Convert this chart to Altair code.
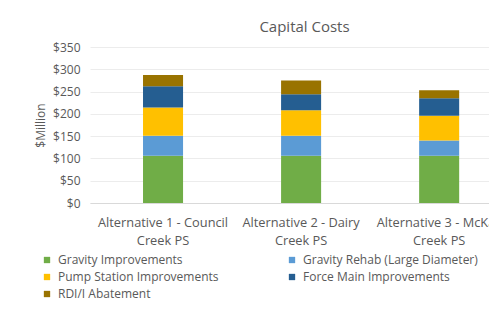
import altair as alt
import pandas as pd

categories = [
    "Alternative 1 - Council Creek PS",
    "Alternative 2 - Dairy Creek PS",
    "Alternative 3 - McKay Creek PS",
]
series = [
    "Gravity Improvements",
    "Gravity Rehab (Large Diameter)",
    "Pump Station Improvements",
    "Force Main Improvements",
    "RDI/I Abatement",
]
colors = ["#70AD47", "#5B9BD5", "#FFC000", "#255E91", "#997300"]
values = {
    "Gravity Improvements": [106, 106, 106],
    "Gravity Rehab (Large Diameter)": [45, 45, 34],
    "Pump Station Improvements": [63, 57, 56],
    "Force Main Improvements": [48, 36, 39],
    "RDI/I Abatement": [25, 31, 18],
}
y_ticks = [0, 50, 100, 150, 200, 250, 300, 350]

rows = []
for si, s in enumerate(series):
    for ci, c in enumerate(categories):
        rows.append({"cat": c, "series": s, "order": si, "value": values[s][ci]})
df = pd.DataFrame(rows)

FONT = "Open Sans"
GREY = "#595959"

chart = (
    alt.Chart(df)
    .mark_bar()
    .encode(
        x=alt.X(
            "cat:N",
            sort=categories,
            title=None,
            scale=alt.Scale(paddingInner=0.71, paddingOuter=0.30, align=0.64),
            axis=alt.Axis(
                labelAngle=0,
                labelExpr="[slice(datum.label, 0, indexof(datum.label, ' Creek')), 'Creek PS']",
                labelFont=FONT,
                labelFontSize=12.8,
                labelColor=GREY,
                labelLineHeight=18,
                labelPadding=13,
                labelLimit=300,
                ticks=False,
                domainColor="#d9d9d9",
                grid=False,
            ),
        ),
        y=alt.Y(
            "value:Q",
            stack="zero",
            title="$Million",
            scale=alt.Scale(domain=[0, 350], nice=False),
            axis=alt.Axis(
                values=y_ticks,
                labelExpr="'$' + datum.value",
                labelFont=FONT,
                labelFontSize=12,
                labelColor=GREY,
                labelPadding=10,
                titleFont=FONT,
                titleFontSize=12,
                titleFontWeight="normal",
                titleColor=GREY,
                titlePadding=5,
                ticks=False,
                domain=False,
                gridColor="#ececec",
            ),
        ),
        color=alt.Color(
            "series:N",
            sort=series,
            scale=alt.Scale(domain=series, range=colors),
            legend=alt.Legend(
                title=None,
                orient="none",
                legendX=-49,
                legendY=207,
                direction="horizontal",
                columns=2,
                columnPadding=67,
                rowPadding=5,
                symbolType="square",
                symbolSize=40,
                symbolStrokeWidth=0,
                labelFont=FONT,
                labelFontSize=12,
                labelColor=GREY,
                labelOffset=5,
                labelLimit=300,
            ),
        ),
        order=alt.Order("order:Q", sort="ascending"),
    )
    .properties(
        width=399,
        height=156,
        title=alt.TitleParams(
            "Capital Costs",
            font=FONT,
            fontSize=15,
            fontWeight="normal",
            color=GREY,
            anchor="middle",
            dx=15,
            offset=6,
        ),
        autosize=alt.AutoSizeParams(type="none"),
        padding={"left": 82, "top": 39, "right": 0, "bottom": 101},
    )
    .configure_view(stroke=None)
)

chart.save("out.html", embed_options={"renderer": "svg", "actions": False})
